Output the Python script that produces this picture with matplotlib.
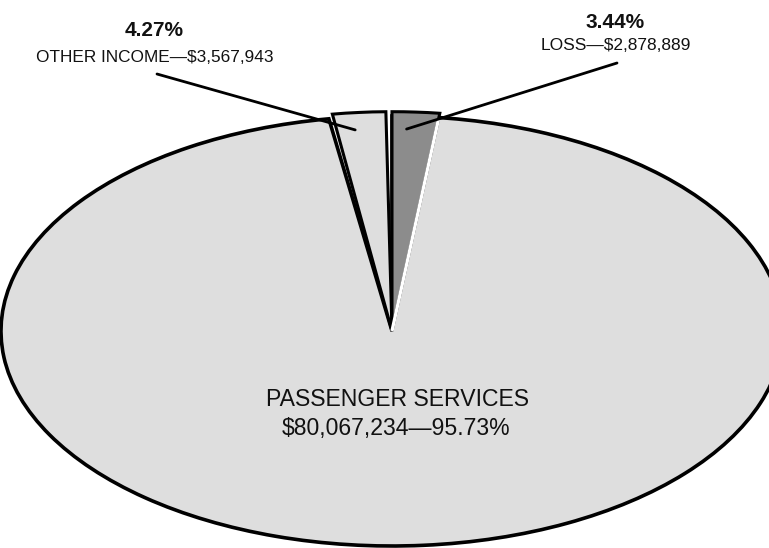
import numpy as np
import matplotlib.pyplot as plt
from matplotlib.patches import Wedge

plt.rcParams['font.family'] = ['Liberation Sans', 'DejaVu Sans']

# chart values
labels = ["PASSENGER SERVICES", "OTHER INCOME", "LOSS"]
amounts = ["$80,067,234", "$3,567,943", "$2,878,889"]
percents = [95.73, 4.27, 3.44]

W, H = 769, 548
CX, CY, RX, RY = 392, 331, 391, 215   # ellipse centre / half axes in pixels
GAP = 1.2                               # white sliver between slices, degrees

LIGHT = '#dedede'
DARK = '#8c8c8c'


def to_math(theta):
    '''clockwise angle from 12 o'clock (as seen on the page) -> wedge angle in data space'''
    t = np.radians(theta)
    return np.degrees(np.arctan2(np.cos(t) / RY, np.sin(t) / RX))


def wedge(t_start, t_end, r, **kw):
    a1 = to_math(t_end)
    a2 = to_math(t_start)
    if a2 <= a1:
        a2 += 360
    return Wedge((0, 0), r, a1, a2, **kw)


def point(theta, r):
    m = np.radians(to_math(theta))
    return r * np.cos(m), r * np.sin(m)


def fig_xy(px, py):
    return px / W, 1 - py / H


fig = plt.figure(figsize=(W / 100, H / 100), dpi=100)
ax = fig.add_axes([0, 0, 1, 1])
ax.set_xlim(-CX / RX, (W - CX) / RX)
ax.set_ylim(-(H - CY) / RY, CY / RY)
ax.axis('off')

deg = [p / 100 * 360 for p in percents]
pass_end = deg[0]

# passenger services: the big slice
ax.add_patch(wedge(0, pass_end - GAP, 1.0, facecolor=LIGHT, edgecolor='black', lw=2.6))
# other income: rest of the circle
ax.add_patch(wedge(pass_end, 360 - 1.6, 1.02, facecolor=LIGHT, edgecolor='black', lw=2.2))
# loss: shaded slice sitting on top of passenger services
ax.add_patch(wedge(0, deg[2], 1.02, facecolor=DARK, edgecolor='black', lw=2.2))
ex, ey = point(deg[2], 0.995)
ax.plot([0, ex], [0, ey], color='white', lw=2.4, solid_capstyle='butt')

# labels
fig.text(*fig_xy(154, 31), f"{percents[1]:.2f}%", ha='center', va='center',
         fontsize=15, fontweight='bold', color='#111111')
fig.text(*fig_xy(155, 57), f"{labels[1]}\u2014{amounts[1]}", ha='center', va='center',
         fontsize=12.4, color='#111111')
fig.text(*fig_xy(615, 23), f"{percents[2]:.2f}%", ha='center', va='center',
         fontsize=15, fontweight='bold', color='#111111')
fig.text(*fig_xy(616, 45), f"{labels[2]}\u2014{amounts[2]}", ha='center', va='center',
         fontsize=12.5, color='#111111')
fig.text(*fig_xy(397, 400), labels[0], ha='center', va='center',
         fontsize=16.6, color='#111111')
fig.text(*fig_xy(396, 428), f"{amounts[0]}\u2014{percents[0]:.2f}%", ha='center', va='center',
         fontsize=16.6, color='#111111')

# leader lines
ax.annotate('', xy=point(pass_end + 5, 0.94), xycoords='data',
            xytext=fig_xy(157, 74), textcoords='figure fraction',
            arrowprops=dict(arrowstyle='-', color='black', lw=2, shrinkA=0, shrinkB=0))
ax.annotate('', xy=point(deg[2] / 3, 0.94), xycoords='data',
            xytext=fig_xy(617, 63), textcoords='figure fraction',
            arrowprops=dict(arrowstyle='-', color='black', lw=2, shrinkA=0, shrinkB=0))

fig.savefig('out.png', dpi=100)
